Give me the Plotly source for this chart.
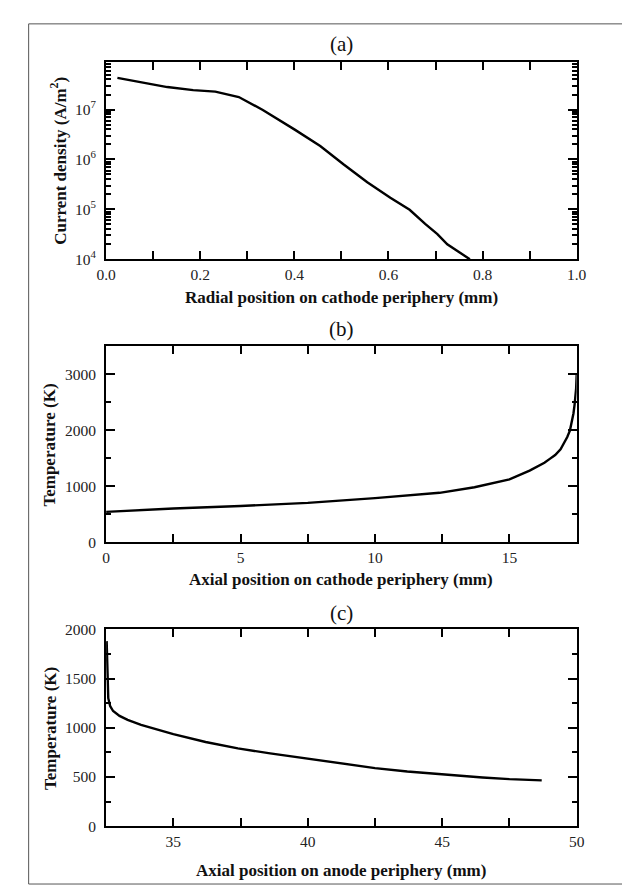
import plotly.graph_objects as go

# Panel (a): current density vs radial position
a_x = [0.024, 0.08, 0.13, 0.185, 0.232, 0.282, 0.333, 0.40, 0.455, 0.505, 0.555, 0.604, 0.645, 0.678, 0.704, 0.725, 0.773]
a_y = [4.32e7, 3.39e7, 2.82e7, 2.45e7, 2.29e7, 1.78e7, 9.8e6, 4.0e6, 1.86e6, 7.9e5, 3.5e5, 1.7e5, 9.8e4, 5.1e4, 3.2e4, 2.0e4, 1.0e4]

# Panel (b): cathode temperature vs axial position
b_x = [0, 1.25, 2.5, 5, 7.5, 10, 11.1, 12.4, 13.7, 15, 15.75, 16.0, 16.3, 16.5, 16.7, 16.9, 17.05, 17.15, 17.25, 17.32, 17.38, 17.42, 17.46, 17.48, 17.5]
b_y = [545, 580, 605, 650, 705, 790, 830, 885, 985, 1125, 1280, 1340, 1420, 1490, 1560, 1660, 1780, 1880, 2000, 2150, 2300, 2450, 2600, 2750, 3000]

# Panel (c): anode temperature vs axial position
c_x = [32.52, 32.55, 32.58, 32.65, 32.76, 33.0, 33.3, 33.8, 34.3, 35, 36.2, 37.4, 38.6, 40, 41.5, 42.5, 43.7, 45, 46.5, 47.5, 48.7]
c_y = [1880, 1600, 1300, 1220, 1170, 1120, 1080, 1030, 990, 935, 855, 790, 740, 685, 625, 590, 555, 525, 495, 478, 465]

a_yticks = [1e4, 1e5, 1e6, 1e7]
a_yticktext = ["10<sup>4</sup>", "10<sup>5</sup>", "10<sup>6</sup>", "10<sup>7</sup>"]

W, H = 630, 885
FONT = "Liberation Serif"

def px(x):
    return x / W

def py(y):
    return 1 - y / H

fig = go.Figure()
line = dict(color="black", width=2.4)
fig.add_trace(go.Scatter(x=a_x, y=a_y, mode="lines", line=line, xaxis="x", yaxis="y", showlegend=False))
fig.add_trace(go.Scatter(x=b_x, y=b_y, mode="lines", line=line, xaxis="x2", yaxis="y2", showlegend=False))
fig.add_trace(go.Scatter(x=c_x, y=c_y, mode="lines", line=line, xaxis="x3", yaxis="y3", showlegend=False))

xdom = [px(91), px(577)]
doms = [[py(247), py(46)], [py(535.7), py(335.7)], [py(825), py(624.3)]]

common = dict(showline=True, linecolor="black", linewidth=2, mirror="ticks", showgrid=False,
              zeroline=False, ticks="inside", tickcolor="black", tickwidth=2,
              tickfont=dict(family=FONT, size=15.5, color="#222"))

xminor = dict(ticks="inside", ticklen=8, tickwidth=2, tickcolor="black")

lay = dict(
    width=W, height=H, margin=dict(l=0, r=0, t=0, b=0),
    paper_bgcolor="white", plot_bgcolor="white", showlegend=False,
    xaxis=dict(domain=xdom, anchor="y", range=[0, 1], dtick=0.2, tick0=0, tickformat=".1f", ticklen=8,
               minor=dict(dtick=0.1, **xminor), ticklabelstandoff=0, **common),
    yaxis=dict(domain=doms[0], anchor="x", type="log", range=[4, 7.95], tickvals=a_yticks, ticktext=a_yticktext,
               ticklen=9, minor=dict(dtick="D1", ticks="inside", ticklen=5, tickwidth=1.5, tickcolor="black"),
               ticklabelstandoff=5, **common),
    xaxis2=dict(domain=xdom, anchor="y2", range=[0, 17.5], dtick=5, tick0=0, ticklen=8,
                minor=dict(dtick=2.5, **xminor), ticklabelstandoff=0, **common),
    yaxis2=dict(domain=doms[1], anchor="x2", range=[0, 3500], dtick=1000, ticklen=9,
                minor=dict(dtick=500, ticks="inside", ticklen=5, tickwidth=2, tickcolor="black"),
                ticklabelstandoff=5, **common),
    xaxis3=dict(domain=xdom, anchor="y3", range=[32.5, 50], dtick=5, tick0=35, ticklen=8,
                minor=dict(dtick=2.5, tick0=35, **xminor), ticklabelstandoff=0, **common),
    yaxis3=dict(domain=doms[2], anchor="x3", range=[0, 2000], dtick=500, ticklen=9,
                minor=dict(dtick=250, ticks="inside", ticklen=5, tickwidth=2, tickcolor="black"),
                ticklabelstandoff=5, **common),
)
fig.update_layout(**lay)

cx = px(334)
ann = []
for txt, y in [("(a)", 28), ("(b)", 318), ("(c)", 608)]:
    ann.append(dict(text=txt, x=cx, y=py(y), xref="paper", yref="paper", showarrow=False,
                    font=dict(family=FONT, size=21, color="#111"), xanchor="center", yanchor="middle"))
for txt, y in [("Radial position on cathode periphery (mm)", 286),
               ("Axial position on cathode periphery (mm)", 574),
               ("Axial position on anode periphery (mm)", 870)]:
    ann.append(dict(text="<b>" + txt + "</b>", x=cx, y=py(y), xref="paper", yref="paper", showarrow=False,
                    font=dict(family=FONT, size=17, color="#111"), xanchor="center", yanchor="middle"))
for txt, x, y in [("Current density (A/m<sup>2</sup>)", 42, 147),
                  ("Temperature (K)", 33, 436),
                  ("Temperature (K)", 33, 725)]:
    ann.append(dict(text="<b>" + txt + "</b>", x=px(x), y=py(y), xref="paper", yref="paper", showarrow=False,
                    textangle=-90, font=dict(family=FONT, size=17, color="#111"),
                    xanchor="center", yanchor="middle"))
fig.update_layout(annotations=ann)

fig.add_shape(type="rect", xref="paper", yref="paper", x0=px(11), x1=px(626), y0=py(884), y1=py(7),
              line=dict(color="#555", width=1), fillcolor="rgba(0,0,0,0)")

fig.write_html("out.html")
